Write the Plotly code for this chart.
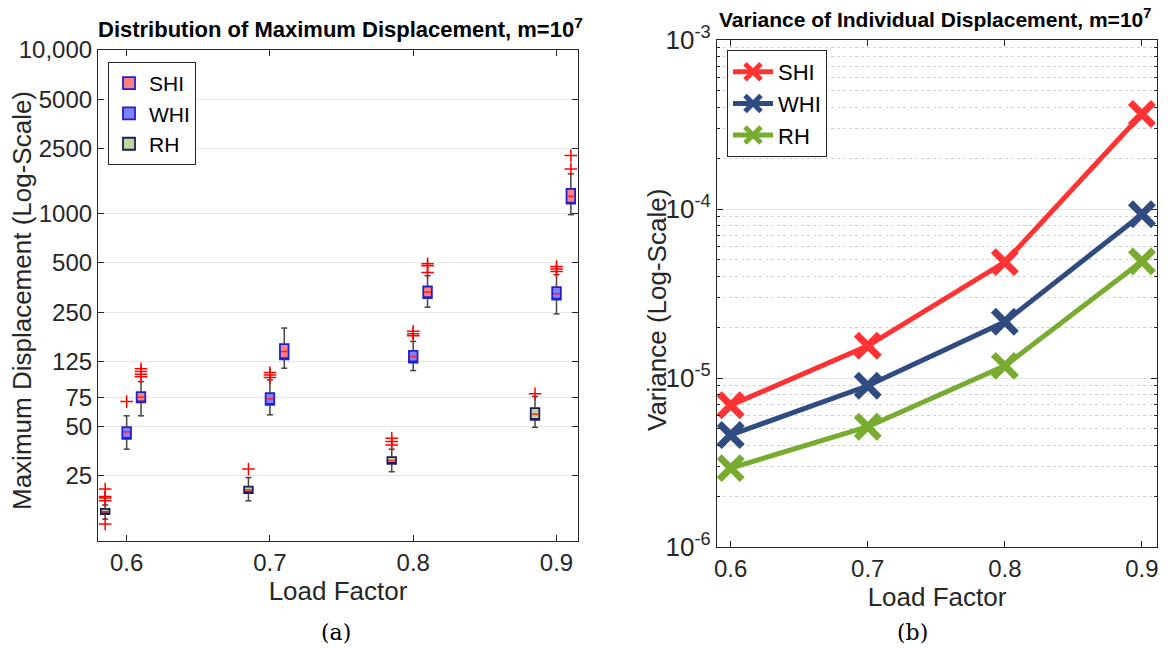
import plotly.graph_objects as go

# ---------------- data ----------------
load_factors = [0.6, 0.7, 0.8, 0.9]
series = ["SHI", "WHI", "RH"]
offsets = {"SHI": 0.01, "WHI": 0.0, "RH": -0.015}

# box plot statistics (panel a)
shi_q1 = [70.4, 129, 305, 1152]
shi_med = [75.7, 143.8, 332, 1276]
shi_q3 = [81.1, 159.6, 359, 1416]
shi_lo = [58.2, 113.7, 268.5, 986]
shi_hi = [94.2, 200, 418, 1750]
shi_out = [[101, 104.5, 108.6, 112.7], [], [437, 481, 494], [1877, 2265]]

whi_q1 = [42.1, 67.9, 123.2, 298]
whi_med = [46.4, 73.9, 134, 324]
whi_q3 = [49.6, 80, 145.2, 356]
whi_lo = [36.4, 59, 110, 244]
whi_hi = [58.2, 96.5, 165.7, 424]
whi_out = [[71.1], [99.7, 103.5, 107], [179.5, 184.7, 191], [444, 459, 476]]

rh_q1 = [14.6, 19.6, 29.6, 55]
rh_med = [15.1, 20.5, 31, 59.6]
rh_q3 = [15.7, 21.5, 32.5, 64.8]
rh_lo = [13.6, 17.6, 26.5, 49.5]
rh_hi = [16.6, 24.4, 36.4, 76.4]
rh_out = [[12.7, 17.6, 18.3, 18.7, 20.8], [27.5], [38.6, 40.5, 42.5], [79.3]]

left_ticks = [10, 25, 50, 75, 125, 250, 500, 1000, 2500, 5000, 10000]
left_ticktext = ["", "25", "50", "75", "125", "250", "500", "1000", "2500", "5000", "10,000"]

# variance (panel b)
var_shi = [6.9e-6, 1.55e-5, 4.85e-5, 3.65e-4]
var_whi = [4.6e-6, 9.0e-6, 2.15e-5, 9.3e-5]
var_rh = [2.93e-6, 5.15e-6, 1.18e-5, 4.9e-5]

right_ticks = [1e-6, 1e-5, 1e-4, 1e-3]
right_ticktext = ["10<sup>-6</sup>", "10<sup>-5</sup>", "10<sup>-4</sup>", "10<sup>-3</sup>"]

# ---------------- styles ----------------
box_fill = {"SHI": "#ff8080", "WHI": "#8080ff", "RH": "#c3d69b"}
box_edge = {"SHI": "#1f1fd0", "WHI": "#1f1fd0", "RH": "#1c1c5e"}
line_col = {"SHI": "#ff3333", "WHI": "#2f4b80", "RH": "#77ac30"}
FONT = "Liberation Sans, Arial, Helvetica, sans-serif"
TXT = "#262626"
BOX_W = 0.006

# page has an 8px body margin; figure is sized/placed to compensate
W, H, OFF = 1161, 640, 8


def px(x):
    return (x - OFF) / W


def py(y):
    return 1 - (y - OFF) / H


stats = {
    "SHI": (shi_q1, shi_med, shi_q3, shi_lo, shi_hi, shi_out),
    "WHI": (whi_q1, whi_med, whi_q3, whi_lo, whi_hi, whi_out),
    "RH": (rh_q1, rh_med, rh_q3, rh_lo, rh_hi, rh_out),
}

fig = go.Figure()

# whiskers (drawn first, below boxes)
for s in series:
    q1, med, q3, lo, hi, out = stats[s]
    pos = [lf + offsets[s] for lf in load_factors]
    wx, wy = [], []
    cw = BOX_W * 0.35
    for i, p in enumerate(pos):
        wx += [p, p, None, p, p, None, p - cw, p + cw, None, p - cw, p + cw, None]
        wy += [q3[i], hi[i], None, q1[i], lo[i], None, hi[i], hi[i], None, lo[i], lo[i], None]
    fig.add_trace(go.Scatter(x=wx, y=wy, mode="lines", line=dict(color="#444444", width=1.5),
                             showlegend=False, hoverinfo="skip", xaxis="x", yaxis="y"))

# boxes
for s in series:
    q1, med, q3, lo, hi, out = stats[s]
    pos = [lf + offsets[s] for lf in load_factors]
    fig.add_trace(go.Box(x=pos, q1=q1, median=q1, q3=q3, lowerfence=q1, upperfence=q3,
                         width=BOX_W, whiskerwidth=0, fillcolor=box_fill[s],
                         line=dict(color=box_edge[s], width=1.8), boxpoints=False,
                         name=s, legend="legend", xaxis="x", yaxis="y"))

# medians and outliers
for s in series:
    q1, med, q3, lo, hi, out = stats[s]
    pos = [lf + offsets[s] for lf in load_factors]
    mx, my = [], []
    for i, p in enumerate(pos):
        mx += [p - BOX_W / 2 + 0.0006, p + BOX_W / 2 - 0.0006, None]
        my += [med[i], med[i], None]
    fig.add_trace(go.Scatter(x=mx, y=my, mode="lines", line=dict(color="#ff2020", width=1.5),
                             showlegend=False, hoverinfo="skip", xaxis="x", yaxis="y"))
    ox, oy = [], []
    for i, p in enumerate(pos):
        for v in out[i]:
            ox.append(p)
            oy.append(v)
    fig.add_trace(go.Scatter(x=ox, y=oy, mode="markers",
                             marker=dict(symbol="cross-thin-open", size=9, color="#ff0000",
                                         line=dict(color="#ff0000", width=1.5)),
                             showlegend=False, xaxis="x", yaxis="y"))

# variance lines (panel b)
for s, vals in zip(series, [var_shi, var_whi, var_rh]):
    fig.add_trace(go.Scatter(x=load_factors, y=vals, mode="lines+markers", name=s,
                             line=dict(color=line_col[s], width=5),
                             marker=dict(symbol="x-thin", size=23, color=line_col[s],
                                         line=dict(color=line_col[s], width=7)),
                             legend="legend2", xaxis="x2", yaxis="y2"))

axis_common = dict(showline=True, linecolor=TXT, linewidth=1.2, mirror="ticks",
                   ticks="inside", tickcolor=TXT, ticklen=6, zeroline=False, automargin=False)
tick24 = dict(family=FONT, size=24, color=TXT)

fig.update_layout(
    width=W, height=H, autosize=False,
    margin=dict(l=0, r=0, t=0, b=0),
    paper_bgcolor="white", plot_bgcolor="white",
    font=dict(family=FONT, color=TXT),
    xaxis=dict(domain=[px(98), px(578)], range=[0.58, 0.915],
               tickvals=load_factors, ticktext=["0.6", "0.7", "0.8", "0.9"],
               showgrid=False, anchor="y", tickfont=tick24,
               title=dict(text="Load Factor", font=dict(family=FONT, size=26, color=TXT), standoff=6),
               **axis_common),
    yaxis=dict(domain=[py(541), py(50)], type="log", range=[1, 4],
               tickvals=left_ticks, ticktext=left_ticktext, tickfont=tick24,
               showgrid=True, gridcolor="#e6e6e6", gridwidth=1.2, anchor="x",
               **axis_common),
    xaxis2=dict(domain=[px(717), px(1157)], range=[0.59, 0.911],
                tickvals=load_factors, ticktext=["0.6", "0.7", "0.8", "0.9"],
                showgrid=False, anchor="y2", tickfont=tick24,
                title=dict(text="Load Factor", font=dict(family=FONT, size=26, color=TXT), standoff=6),
                **axis_common),
    yaxis2=dict(domain=[py(547), py(40)], type="log", range=[-6, -3],
                tickvals=right_ticks, ticktext=right_ticktext,
                tickfont=dict(family=FONT, size=26, color=TXT),
                showgrid=True, gridcolor="#e3e3e3", gridwidth=1, anchor="x2",
                minor=dict(tickvals=[m * 10 ** e for e in (-6, -5, -4) for m in range(2, 10)],
                           showgrid=True, gridcolor="#d0d0d0", griddash="dot", gridwidth=1,
                           ticks="inside", ticklen=3, tickcolor=TXT),
                **axis_common),
    legend=dict(x=px(108), y=py(62), xanchor="left", yanchor="top",
                bgcolor="white", bordercolor=TXT, borderwidth=1,
                font=dict(family=FONT, size=21, color="black"),
                itemwidth=30, tracegroupgap=0),
    legend2=dict(x=px(727), y=py(50), xanchor="left", yanchor="top",
                 bgcolor="white", bordercolor=TXT, borderwidth=1,
                 font=dict(family=FONT, size=22, color="black"),
                 itemwidth=40, tracegroupgap=0),
    annotations=[
        dict(text="Maximum Displacement (Log-Scale)", textangle=-90,
             x=px(22), y=py(301), xref="paper", yref="paper", showarrow=False,
             font=dict(family=FONT, size=26, color=TXT), xanchor="center", yanchor="middle"),
        dict(text="Variance (Log-Scale)", textangle=-90,
             x=px(657), y=py(310), xref="paper", yref="paper", showarrow=False,
             font=dict(family=FONT, size=26, color=TXT), xanchor="center", yanchor="middle"),
        dict(text="<b>Distribution of Maximum Displacement, m=10<sup>7</sup></b>",
             x=px(340), y=py(28), xref="paper", yref="paper", showarrow=False,
             font=dict(family=FONT, size=22, color="black"), xanchor="center", yanchor="middle"),
        dict(text="<b>Variance of Individual Displacement, m=10<sup>7</sup></b>",
             x=px(935), y=py(18), xref="paper", yref="paper", showarrow=False,
             font=dict(family=FONT, size=21, color="black"), xanchor="center", yanchor="middle"),
        dict(text="(a)", x=px(336), y=py(632), xref="paper", yref="paper",
             showarrow=False, font=dict(family="DejaVu Serif, Liberation Serif, serif", size=22, color="black"),
             xanchor="center", yanchor="middle"),
        dict(text="(b)", x=px(912), y=py(632), xref="paper", yref="paper",
             showarrow=False, font=dict(family="DejaVu Serif, Liberation Serif, serif", size=22, color="black"),
             xanchor="center", yanchor="middle"),
    ],
)

fig.write_html("out.html")
